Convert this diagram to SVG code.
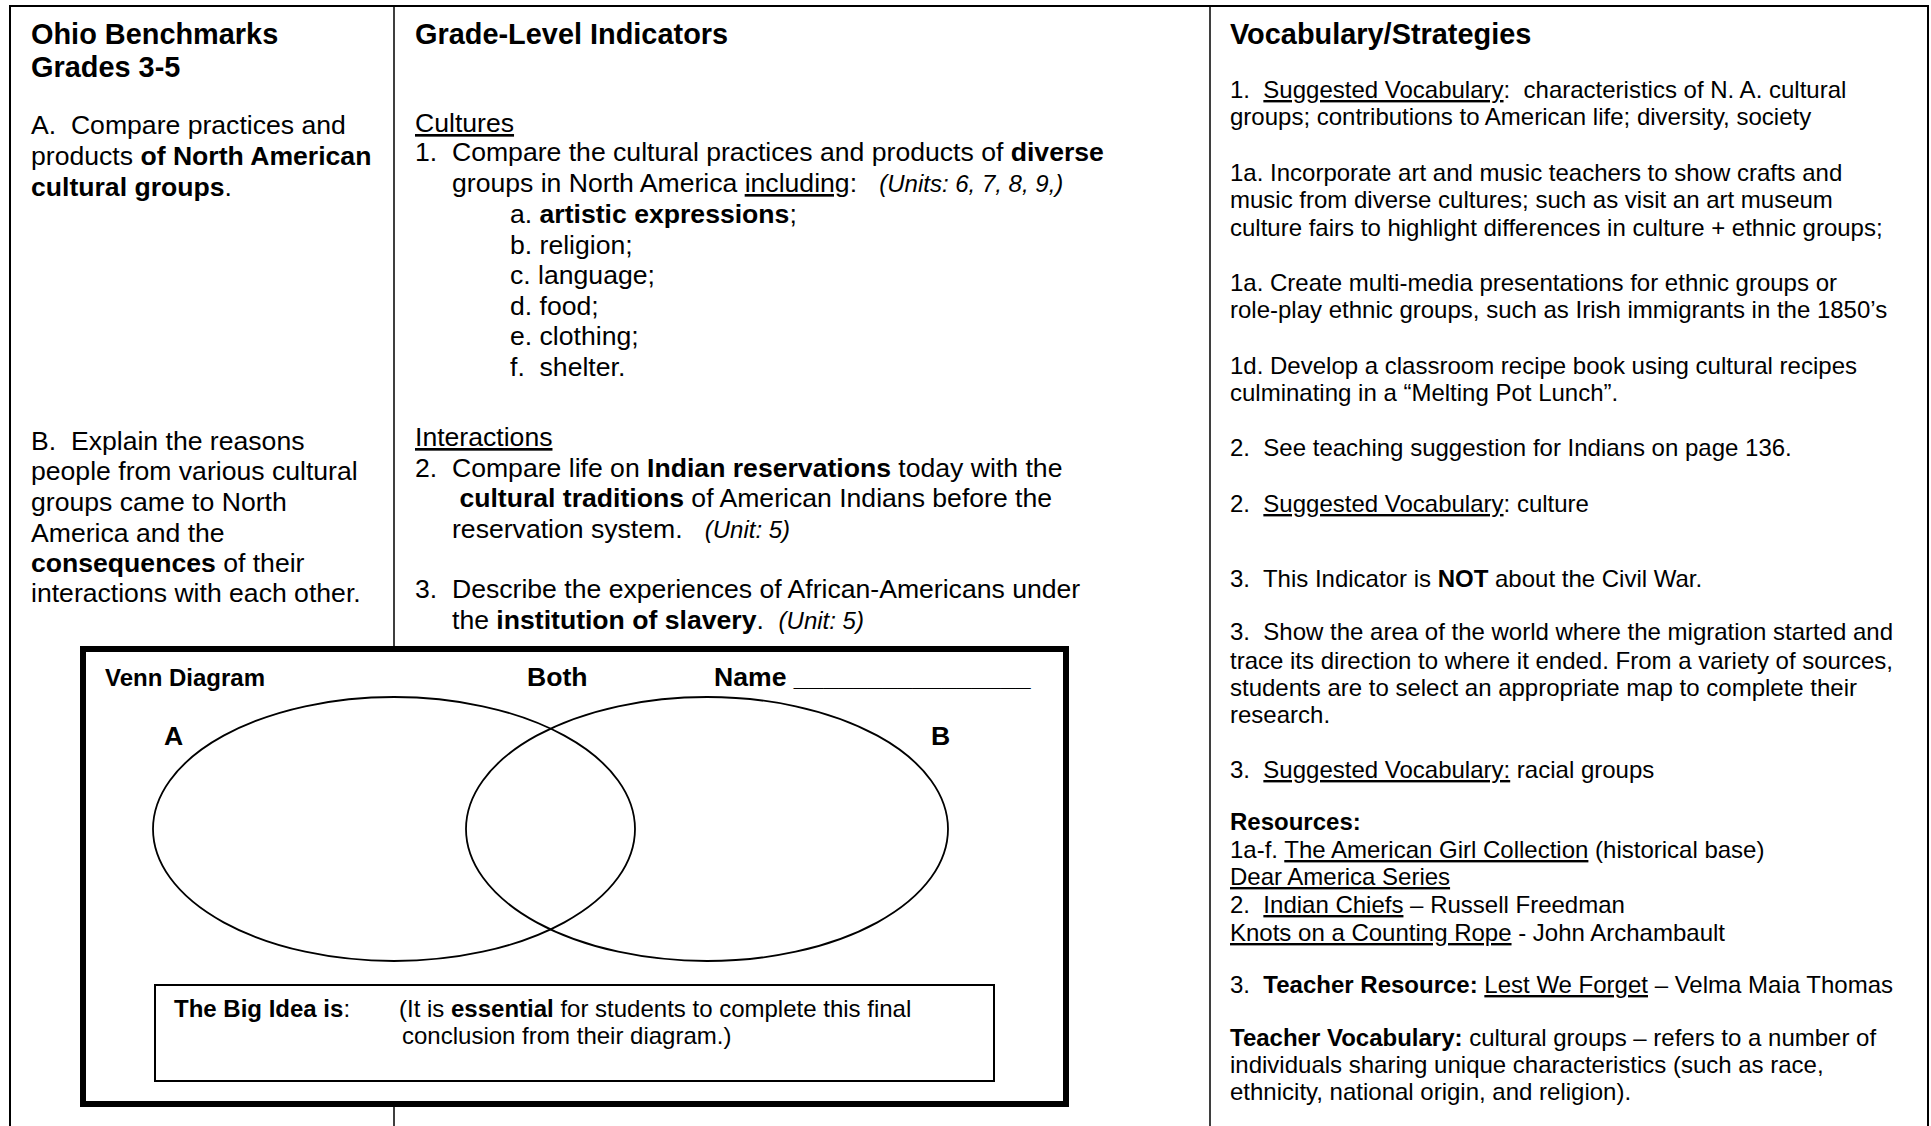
<svg xmlns="http://www.w3.org/2000/svg" width="1931" height="1126" viewBox="0 0 1931 1126" xml:space="preserve">
<style>
text { font-family: "Liberation Sans", Arial, Helvetica, sans-serif; fill: #000; white-space: pre; }
.h { font-size: 28.9px; font-weight: bold; }
.b { font-size: 26.6px; }
.r { font-size: 24px; }
.bd { font-weight: bold; }
.u { text-decoration: underline; }
.it { font-style: italic; font-size: 24px; }
.frame { fill: none; stroke: #000; stroke-width: 2; }
.div { fill: none; stroke: #000; stroke-width: 1.5; }
.venn { fill: none; stroke: #000; stroke-width: 1.8; }
</style>
<rect width="1931" height="1126" fill="#fff"/>
<g id="frame">
<path class="frame" d="M10,1126 V6 H1928 V1126"/>
<path class="div" d="M394,6 V650 M394,1104 V1126 M1210,6 V1126"/>
</g>
<g id="col-benchmarks">
<text class="h" x="31" y="44">Ohio Benchmarks</text>
<text class="h" x="31" y="77">Grades 3-5</text>
<text class="b" x="31" y="134">A.  Compare practices and</text>
<text class="b" x="31" y="165">products <tspan class="bd">of North American</tspan></text>
<text class="b" x="31" y="196"><tspan class="bd">cultural groups</tspan>.</text>
<text class="b" x="31" y="450">B.  Explain the reasons</text>
<text class="b" x="31" y="480">people from various cultural</text>
<text class="b" x="31" y="511">groups came to North</text>
<text class="b" x="31" y="542">America and the</text>
<text class="b" x="31" y="572"><tspan class="bd">consequences</tspan> of their</text>
<text class="b" x="31" y="602">interactions with each other.</text>
</g>
<g id="col-indicators">
<text class="h" x="415" y="44">Grade-Level Indicators</text>
<text class="b" x="415" y="132"><tspan class="u">Cultures</tspan></text>
<text class="b" x="415" y="161">1.  Compare the cultural practices and products of <tspan class="bd">diverse</tspan></text>
<text class="b" x="452" y="192">groups in North America <tspan class="u">including</tspan>:   <tspan class="it">(Units: 6, 7, 8, 9,)</tspan></text>
<text class="b" x="510" y="223">a. <tspan class="bd">artistic expressions</tspan>;</text>
<text class="b" x="510" y="254">b. religion;</text>
<text class="b" x="510" y="284">c. language;</text>
<text class="b" x="510" y="315">d. food;</text>
<text class="b" x="510" y="345">e. clothing;</text>
<text class="b" x="510" y="376">f.  shelter.</text>
<text class="b" x="415" y="446"><tspan class="u">Interactions</tspan></text>
<text class="b" x="415" y="477">2.  Compare life on <tspan class="bd">Indian reservations</tspan> today with the</text>
<text class="b" x="452" y="507"> <tspan class="bd">cultural traditions</tspan> of American Indians before the</text>
<text class="b" x="452" y="538">reservation system.   <tspan class="it">(Unit: 5)</tspan></text>
<text class="b" x="415" y="598">3.  Describe the experiences of African-Americans under</text>
<text class="b" x="452" y="629">the <tspan class="bd">institution of slavery</tspan>.  <tspan class="it">(Unit: 5)</tspan></text>
</g>
<g id="col-vocabulary">
<text class="h" x="1230" y="44">Vocabulary/Strategies</text>
<text class="r" x="1230" y="98">1.  <tspan class="u">Suggested Vocabulary</tspan>:  characteristics of N. A. cultural</text>
<text class="r" x="1230" y="125">groups; contributions to American life; diversity, society</text>
<text class="r" x="1230" y="181">1a. Incorporate art and music teachers to show crafts and</text>
<text class="r" x="1230" y="208">music from diverse cultures; such as visit an art museum</text>
<text class="r" x="1230" y="236">culture fairs to highlight differences in culture + ethnic groups;</text>
<text class="r" x="1230" y="291">1a. Create multi-media presentations for ethnic groups or</text>
<text class="r" x="1230" y="318">role-play ethnic groups, such as Irish immigrants in the 1850’s</text>
<text class="r" x="1230" y="374">1d. Develop a classroom recipe book using cultural recipes</text>
<text class="r" x="1230" y="401">culminating in a “Melting Pot Lunch”.</text>
<text class="r" x="1230" y="456">2.  See teaching suggestion for Indians on page 136.</text>
<text class="r" x="1230" y="512">2.  <tspan class="u">Suggested Vocabulary</tspan>: culture</text>
<text class="r" x="1230" y="587">3.  This Indicator is <tspan class="bd">NOT</tspan> about the Civil War.</text>
<text class="r" x="1230" y="640">3.  Show the area of the world where the migration started and</text>
<text class="r" x="1230" y="669">trace its direction to where it ended. From a variety of sources,</text>
<text class="r" x="1230" y="696">students are to select an appropriate map to complete their</text>
<text class="r" x="1230" y="723">research.</text>
<text class="r" x="1230" y="778">3.  <tspan class="u">Suggested Vocabulary:</tspan> racial groups</text>
<text class="r bd" x="1230" y="830">Resources:</text>
<text class="r" x="1230" y="858">1a-f. <tspan class="u">The American Girl Collection</tspan> (historical base)</text>
<text class="r" x="1230" y="885"><tspan class="u">Dear America Series</tspan></text>
<text class="r" x="1230" y="913">2.  <tspan class="u">Indian Chiefs</tspan> – Russell Freedman</text>
<text class="r" x="1230" y="941"><tspan class="u">Knots on a Counting Rope</tspan> - John Archambault</text>
<text class="r" x="1230" y="993">3.  <tspan class="bd">Teacher Resource:</tspan> <tspan class="u">Lest We Forget</tspan> – Velma Maia Thomas</text>
<text class="r" x="1230" y="1046"><tspan class="bd">Teacher Vocabulary:</tspan> cultural groups – refers to a number of</text>
<text class="r" x="1230" y="1073">individuals sharing unique characteristics (such as race,</text>
<text class="r" x="1230" y="1100">ethnicity, national origin, and religion).</text>
</g>
<g id="venn-diagram">
<rect x="83" y="649" width="983" height="455" fill="#fff" stroke="#000" stroke-width="6"/>
<text class="r bd" x="105" y="686">Venn Diagram</text>
<text class="b bd" x="527" y="686">Both</text>
<text class="b bd" x="714" y="686">Name ________________</text>
<text class="b bd" x="164" y="745">A</text>
<text class="b bd" x="931" y="745">B</text>
<ellipse id="circle-a" class="venn" cx="394" cy="829" rx="241" ry="132"/>
<ellipse id="circle-b" class="venn" cx="707" cy="829" rx="241" ry="132"/>
</g>
<g id="big-idea">
<rect x="155" y="985" width="839" height="96" fill="none" stroke="#000" stroke-width="2"/>
<text class="r" x="174" y="1017"><tspan class="bd">The Big Idea is</tspan>:</text>
<text class="r" x="399" y="1017">(It is <tspan class="bd">essential</tspan> for students to complete this final</text>
<text class="r" x="402" y="1044">conclusion from their diagram.)</text>
</g>
<g id="connectors"></g>
</svg>
